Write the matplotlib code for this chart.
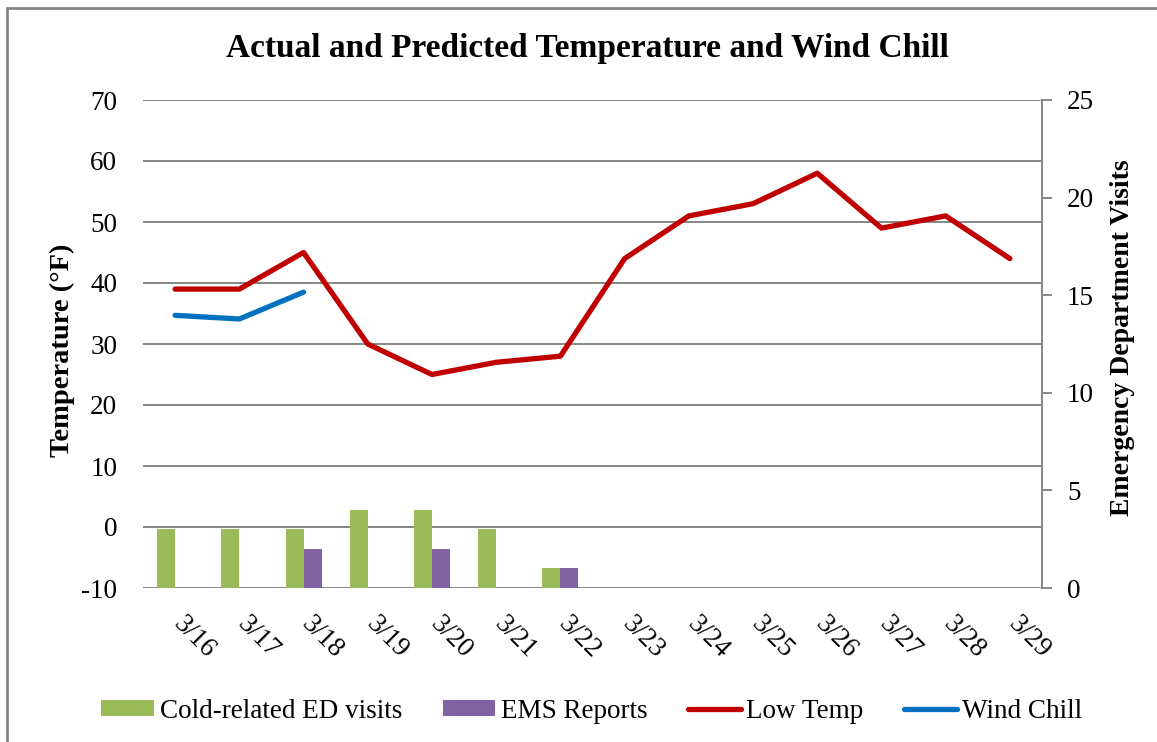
import matplotlib
matplotlib.use("Agg")
import matplotlib.pyplot as plt
import matplotlib.transforms as mtransforms
from matplotlib.patches import Rectangle
import numpy as np

# data
dates = ["3/16", "3/17", "3/18", "3/19", "3/20", "3/21", "3/22",
         "3/23", "3/24", "3/25", "3/26", "3/27", "3/28", "3/29"]
low_temp = [39, 39, 45, 30, 25, 27, 28, 44, 51, 53, 58, 49, 51, 44]
wind_chill = [34.7, 34.1, 38.5]
ed_visits = [3, 3, 3, 4, 4, 3, 1, 0, 0, 0, 0, 0, 0, 0]
ems_reports = [0, 0, 2, 0, 2, 0, 1, 0, 0, 0, 0, 0, 0, 0]

plt.rcParams["font.family"] = ["Liberation Serif", "DejaVu Serif"]
plt.rcParams["axes.unicode_minus"] = False

fs = 19.5
fig = plt.figure(figsize=(11.57, 7.42), dpi=100)
ax = fig.add_axes([143 / 1157, 1 - 588 / 742, (1042 - 143) / 1157, (588 - 100) / 742])
ax2 = ax.twinx()

x = np.arange(len(dates))
w = 0.28

# temperature axis (left) with grid and lines
ax.set_ylim(-10, 70)
ax.set_yticks(range(-10, 71, 10))
ax.set_xlim(-0.5, len(dates) - 0.5)
ax.grid(axis="y", color="#868686", linewidth=1.4)
ax.set_axisbelow(True)
ln1, = ax.plot(x, low_temp, color="#C00000", linewidth=3.8, label="Low Temp",
               solid_capstyle="round")
ln2, = ax.plot(x[:len(wind_chill)], wind_chill, color="#0070C0", linewidth=3.8,
               label="Wind Chill", solid_capstyle="round")

# visits axis (right) with bars
b1 = ax2.bar(x - w / 2, ed_visits, w, color="#9BBB59", label="Cold-related ED visits")
b2 = ax2.bar(x + w / 2, ems_reports, w, color="#8064A2", label="EMS Reports")
ax2.set_ylim(0, 25)
ax2.set_yticks(range(0, 26, 5))

for a in (ax, ax2):
    for s in ("top", "left", "bottom"):
        a.spines[s].set_visible(False)
ax.spines["right"].set_visible(False)
ax2.spines["right"].set_color("#868686")
ax2.spines["right"].set_linewidth(1.4)

ax.tick_params(axis="y", length=0, labelsize=fs, pad=18.5)
ax.tick_params(axis="x", length=0, labelsize=fs, pad=17)
ax2.tick_params(axis="y", length=7, width=1.4, color="#868686", labelsize=fs, pad=11)

ax.set_xticks(x)
ax.set_xticklabels(dates, rotation=-45, ha="center", va="top")
offset = mtransforms.ScaledTranslation(19 / 100, 0, fig.dpi_scale_trans)
for lbl in ax.get_xticklabels():
    lbl.set_transform(lbl.get_transform() + offset)

ax.set_ylabel("Temperature (°F)", fontsize=fs + 1, fontweight="bold")
ax.yaxis.set_label_coords(-0.0756, 0.4877)
ax2.set_ylabel("Emergency Department Visits", fontsize=fs + 0.5, fontweight="bold")
ax2.yaxis.set_label_coords(1.0756, 0.513)

fig.suptitle("Actual and Predicted Temperature and Wind Chill", fontsize=24,
             fontweight="bold", x=587 / 1157, y=1 - 48 / 742, va="center")

fig.legend([b1, b2, ln1, ln2],
           ["Cold-related ED visits", "EMS Reports", "Low Temp", "Wind Chill"],
           loc="center", bbox_to_anchor=(592 / 1157, 1 - 711 / 742), ncol=4,
           frameon=False, fontsize=fs, handlelength=1.95, handleheight=0.55,
           columnspacing=1.5, handletextpad=0.2)

# outer chart border
fig.patches.append(Rectangle((7 / 1157, -0.1), 1.2, 1 - 8 / 742 + 0.1,
                             transform=fig.transFigure, fill=False,
                             edgecolor="#868686", linewidth=2))

fig.savefig("out.png", dpi=100)
